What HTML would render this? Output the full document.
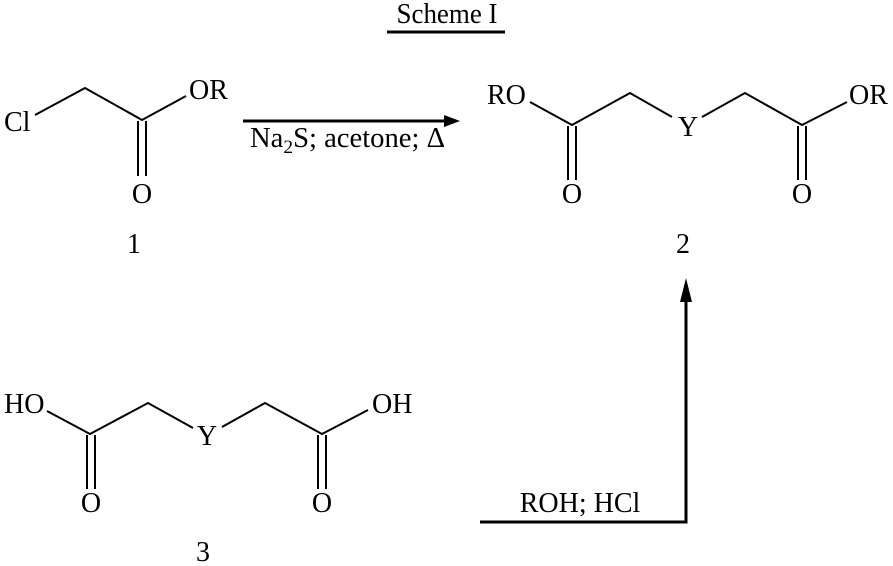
<!DOCTYPE html>
<html><head><style>
html,body{margin:0;padding:0;background:#fff;}
svg{display:block;}
text{font-family:"Liberation Serif",serif;font-size:28px;fill:#000;}
</style></head><body>
<svg width="893" height="566" viewBox="0 0 893 566" xmlns="http://www.w3.org/2000/svg">
<g stroke="#000" stroke-width="2" fill="none">
<line x1="387" y1="32" x2="505" y2="32" stroke-width="3"/>
<!-- 1 -->
<polyline points="35,115 85,88 142,120 186,96"/>
<line x1="138" y1="121" x2="138" y2="176"/>
<line x1="146" y1="121" x2="146" y2="176"/>
<!-- 2 -->
<polyline points="530,102 572,125 630,93 672,117"/>
<polyline points="702,117 745,93 802,125 847,102"/>
<line x1="568" y1="126" x2="568" y2="180"/>
<line x1="576" y1="126" x2="576" y2="180"/>
<line x1="798" y1="126" x2="798" y2="180"/>
<line x1="806" y1="126" x2="806" y2="180"/>
<!-- 3 -->
<polyline points="47,411 90,434 148,403 193,428"/>
<polyline points="222,427 265,403 322,434 368,410"/>
<line x1="87" y1="435" x2="87" y2="489"/>
<line x1="95" y1="435" x2="95" y2="489"/>
<line x1="318" y1="435" x2="318" y2="489"/>
<line x1="326" y1="435" x2="326" y2="489"/>
<!-- arrows -->
<line x1="243" y1="121" x2="445" y2="121" stroke-width="3"/>
<polyline points="480,522 686,522 686,300" stroke-width="3"/>
</g>
<polygon points="460,121 444,115 444,127" fill="#000"/>
<polygon points="686,278 680,302 692,302" fill="#000"/>
<text x="447" y="23" text-anchor="middle" textLength="101" lengthAdjust="spacingAndGlyphs">Scheme I</text>
<text x="4" y="131">Cl</text>
<text x="189" y="99">OR</text>
<text x="142" y="203" text-anchor="middle">O</text>
<text x="127" y="253">1</text>
<text x="250" y="147" textLength="195" lengthAdjust="spacingAndGlyphs">Na<tspan font-size="19" dy="6">2</tspan><tspan dy="-6">S; acetone; Δ</tspan></text>
<text x="487" y="104">RO</text>
<text x="688" y="136" text-anchor="middle">Y</text>
<text x="849" y="104">OR</text>
<text x="572" y="203" text-anchor="middle">O</text>
<text x="802" y="203" text-anchor="middle">O</text>
<text x="683" y="253" text-anchor="middle">2</text>
<text x="4" y="413">HO</text>
<text x="207" y="445" text-anchor="middle">Y</text>
<text x="372" y="413">OH</text>
<text x="91" y="512" text-anchor="middle">O</text>
<text x="322" y="512" text-anchor="middle">O</text>
<text x="203" y="561" text-anchor="middle">3</text>
<text x="580" y="512" text-anchor="middle">ROH; HCl</text>
</svg>
</body></html>
